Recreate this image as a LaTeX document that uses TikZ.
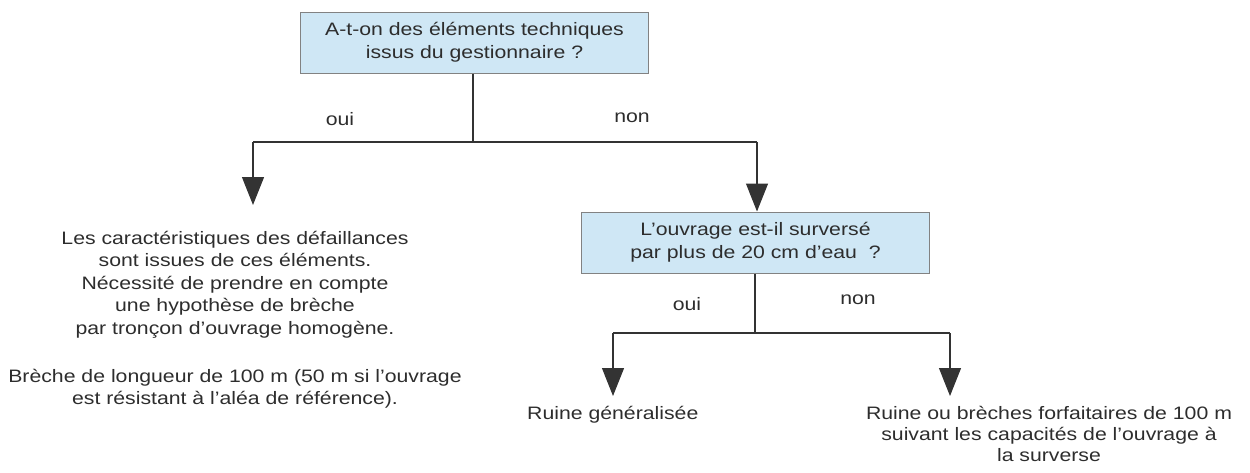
\documentclass[tikz,border=0pt]{standalone}
\usepackage{fontspec}
\setmainfont{Liberation Sans}[FakeStretch=1.18]
\usetikzlibrary{arrows.meta}
\definecolor{boxfill}{RGB}{207,231,245}
\definecolor{boxline}{RGB}{130,130,130}
\definecolor{txt}{RGB}{45,45,45}
\begin{document}
\begin{tikzpicture}[x=1pt,y=-1pt,
  qbox/.style={draw=boxline,fill=boxfill,line width=1pt,minimum width=348pt,minimum height=61pt,align=center,inner sep=0pt,font=\fontsize{18}{23}\selectfont,text=txt},
  lbl/.style={font=\fontsize{18}{22}\selectfont,text=txt,inner sep=0pt},
  body/.style={font=\fontsize{18}{22.5}\selectfont,text=txt,align=center,inner sep=0pt},
  conn/.style={draw=black!80,line width=1.1pt},
  arr/.style={conn,-{Triangle[width=22pt,length=28pt]}}]
\useasboundingbox (0,0) rectangle (1250,472);
\node[qbox] (q1) at (474.5,42.5) {A-t-on des éléments techniques\\ issus du gestionnaire ?};
\node[qbox] (q2) at (755.5,242.5) {L’ouvrage est-il surversé\\ par plus de 20 cm d’eau\ \ ?};
\coordinate (j1) at (473,142);
\coordinate (l1) at (253,142);
\coordinate (r1) at (757,142);
\coordinate (t1) at (253,205);
\coordinate (j2) at (755,333);
\coordinate (l2) at (613,333);
\coordinate (r2) at (950,333);
\coordinate (t2) at (613,396);
\coordinate (t3) at (950,396);
\draw[conn] (q1.south -| j1) -- (j1);
\draw[conn] (l1) -- (r1);
\draw[arr] (l1) -- (t1);
\draw[arr] (r1) -- (r1 |- q2.north);
\draw[conn] (q2.south -| j2) -- (j2);
\draw[conn] (l2) -- (r2);
\draw[arr] (l2) -- (t2);
\draw[arr] (r2) -- (t3);
\node[lbl] (o1) at (340,119) {oui};
\node[lbl] (n1) at (632,118) {non};
\node[lbl] (o2) at (687,304) {oui};
\node[lbl] (n2) at (858,300) {non};
\node[body,anchor=north] (a1) at (235,231) {Les caractéristiques des défaillances\\ sont issues de ces éléments.\\ Nécessité de prendre en compte\\ une hypothèse de brèche\\ par tronçon d’ouvrage homogène.};
\node[body,anchor=north] (a2) at (235,369) {Brèche de longueur de 100 m (50 m si l’ouvrage\\ est résistant à l’aléa de référence).};
\node[body,anchor=west] (a3) at (527,415) {Ruine généralisée};
\node[body,anchor=north,font=\fontsize{18}{21}\selectfont] (a4) at (1049,406) {Ruine ou brèches forfaitaires de 100 m\\ suivant les capacités de l’ouvrage à\\ la surverse};
\end{tikzpicture}
\end{document}
